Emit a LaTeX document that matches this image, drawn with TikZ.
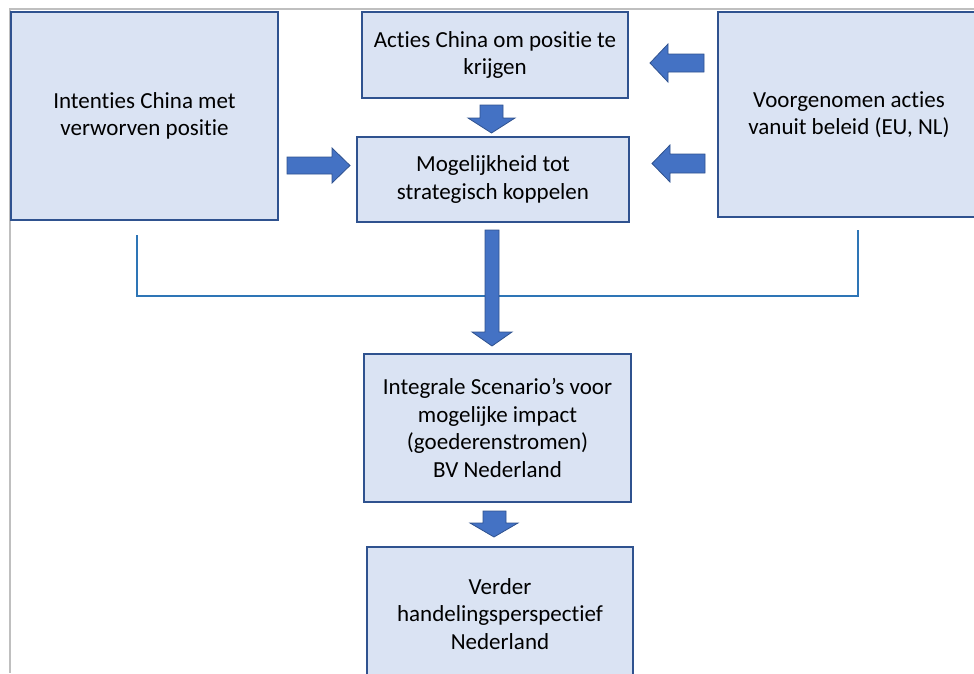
\documentclass[tikz,border=0pt]{standalone}
\usepackage{fontspec}
\setmainfont{Carlito}[Ligatures={NoCommon,NoContextual}]
\definecolor{boxfill}{HTML}{DAE3F3}
\definecolor{boxline}{HTML}{2F528F}
\definecolor{arrfill}{HTML}{4472C4}
\definecolor{brk}{HTML}{2E75B6}
\definecolor{framegray}{HTML}{BFBFBF}
\tikzset{
  stepbox/.style={draw=boxline, fill=boxfill, line width=1.5pt, inner sep=0pt,
    align=center, font=\fontsize{23}{27.5}\selectfont, text=black},
  blockarrow/.style={draw=boxline, fill=arrfill, line width=0.8pt, line join=miter},
  bracketline/.style={draw=brk, line width=2.5pt},
  frameline/.style={draw=framegray, line width=2pt}
}
\begin{document}
\begin{tikzpicture}[x=1pt,y=-1pt]
\useasboundingbox (0,0) rectangle (974,673);
\clip (0,0) rectangle (974,673);
\draw[frameline] (974,9) -- (10,9) -- (10,673);

\node[stepbox, minimum width=267pt, minimum height=208pt] (A) at (144.5,116)
  {Intenties China met\\verworven positie};
\node[stepbox, minimum width=266pt, minimum height=86pt] (B) at (495,55)
  {Acties China om positie te\\krijgen};
\node[stepbox, minimum width=272pt, minimum height=85pt] (C) at (493,179.5)
  {Mogelijkheid tot\\strategisch koppelen};
\node[stepbox, minimum width=262pt, minimum height=205pt] (D) at (849,114.5)
  {Voorgenomen acties\\vanuit beleid (EU, NL)};
\node[stepbox, minimum width=267pt, minimum height=148pt] (E) at (497.5,428)
  {Integrale Scenario’s voor\\mogelijke impact\\(goederenstromen)\\BV Nederland};
\node[stepbox, minimum width=266pt, minimum height=134pt] (F) at (500,614)
  {Verder\\handelingsperspectief\\Nederland};

% block arrows
\draw[blockarrow] (287,157) -- (332,157) -- (332,148) -- (350,165.5) -- (332,183) -- (332,174) -- (287,174) -- cycle;
\draw[blockarrow] (480,105) -- (503,105) -- (503,118) -- (515,118) -- (491.5,133) -- (468,118) -- (480,118) -- cycle;
\draw[blockarrow] (704,54) -- (668,54) -- (668,44) -- (650,63) -- (668,82) -- (668,72) -- (704,72) -- cycle;
\draw[blockarrow] (705,154) -- (670,154) -- (670,145) -- (652,163.5) -- (670,182) -- (670,173) -- (705,173) -- cycle;

% bracket
\coordinate (bl) at (137,235);
\coordinate (br) at (858,230);
\draw[bracketline] (bl) -- (137,296) -- (858,296) -- (br);

\draw[blockarrow] (485,230) -- (499,230) -- (499,332) -- (512,332) -- (492,346) -- (472,332) -- (485,332) -- cycle;
\draw[blockarrow] (483,511) -- (506,511) -- (506,523) -- (518,523) -- (494,537) -- (470,523) -- (483,523) -- cycle;
\end{tikzpicture}
\end{document}
